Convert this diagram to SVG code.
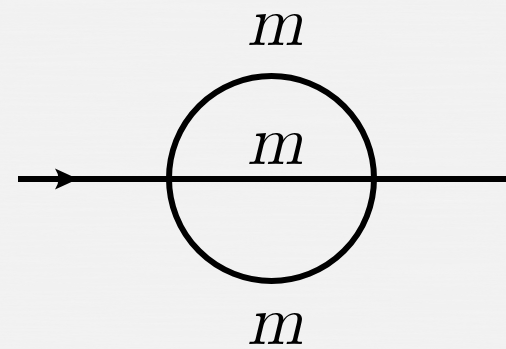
<svg xmlns="http://www.w3.org/2000/svg" width="506" height="349" viewBox="0 0 506 349">
<defs>
<style>
.edge{stroke:#000;stroke-width:6;fill:none}
.lbl{font-family:"Latin Modern Math","Liberation Serif",serif;font-style:italic;font-size:70px;fill:#000;text-anchor:middle}
</style>
<filter id="paper" x="0" y="0" width="100%" height="100%">
<feTurbulence type="fractalNoise" baseFrequency="0.008 0.35" numOctaves="3" seed="4" result="n"/>
<feColorMatrix in="n" type="matrix" values="0 0 0 0 0.93  0 0 0 0 0.93  0 0 0 0 0.93  0 0 0 -0.9 0.55"/>
</filter>
</defs>
<rect width="506" height="349" fill="#f1f1f1"/>
<rect width="506" height="349" filter="url(#paper)" opacity="0.7"/>
<g id="connectors">
<line class="edge" x1="18" y1="179" x2="506" y2="179"/>
<path d="M78,179 L55,168.5 Q62,179 55,189.5 Z" fill="#000"/>
</g>
<g id="loop">
<circle class="edge" cx="271.5" cy="178.5" r="102.5"/>
</g>
<g id="label-top"><text class="lbl" x="275" y="45" textLength="56" lengthAdjust="spacingAndGlyphs">m</text></g>
<g id="label-mid"><text class="lbl" x="275" y="164" textLength="56" lengthAdjust="spacingAndGlyphs">m</text></g>
<g id="label-bot"><text class="lbl" x="275" y="344" textLength="56" lengthAdjust="spacingAndGlyphs">m</text></g>
</svg>
